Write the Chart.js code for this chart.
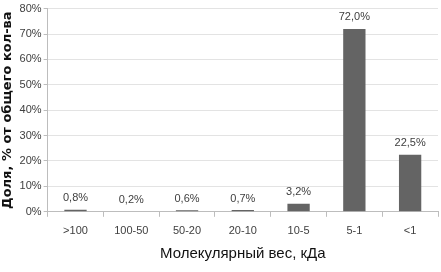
<!DOCTYPE html>
<html>
<head>
<meta charset="utf-8">
<script src="https://cdn.jsdelivr.net/npm/chart.js@4"></script>
<style>
  html, body { margin: 0; padding: 0; background: #fff; }
  #wrap { width: 441px; height: 272px; }
</style>
</head>
<body>
<div id="wrap"><canvas id="molChart"></canvas></div>
<script>
const categories = ['>100', '100-50', '50-20', '20-10', '10-5', '5-1', '<1'];
const shares = [0.8, 0.2, 0.6, 0.7, 3.2, 72.0, 22.5];
const yTicks = [0, 10, 20, 30, 40, 50, 60, 70, 80];

const narrow = "'Liberation Sans Narrow', 'Arial Narrow', sans-serif";

// подписи значений над столбцами
const valueLabels = {
    id: 'valueLabels',
    afterDatasetsDraw(chart) {
        const ctx = chart.ctx;
        const meta = chart.getDatasetMeta(0);
        ctx.save();
        ctx.font = '11px ' + narrow;
        ctx.fillStyle = '#404040';
        ctx.textAlign = 'center';
        ctx.textBaseline = 'bottom';
        meta.data.forEach((bar, i) => {
            const txt = shares[i].toFixed(1).replace('.', ',') + '%';
            ctx.fillText(txt, bar.x, bar.y - 6);
        });
        ctx.restore();
    }
};

const ctx = document.getElementById('molChart').getContext('2d');
new Chart(ctx, {
    type: 'bar',
    data: {
        labels: categories,
        datasets: [{
            data: shares,
            backgroundColor: '#646464',
            barPercentage: 0.4,
            categoryPercentage: 1.0
        }]
    },
    options: {
        responsive: true,
        maintainAspectRatio: false,
        animation: false,
        layout: { padding: { top: 4, right: 3, left: 0, bottom: 11 } },
        plugins: {
            legend: { display: false },
            tooltip: { enabled: false }
        },
        scales: {
            x: {
                grid: { display: true, offset: true, drawOnChartArea: false, color: '#bdbdbd', tickLength: 5 },
                border: { color: '#bdbdbd' },
                ticks: { color: '#404040', font: { family: narrow, size: 11 }, padding: 8, maxRotation: 0 },
                title: {
                    display: true,
                    text: 'Молекулярный вес, кДа',
                    color: '#111',
                    font: { family: narrow, size: 15, lineHeight: 1.0 },
                    padding: { top: 0, bottom: 0 }
                }
            },
            y: {
                min: 0,
                max: 80,
                afterBuildTicks(axis) { axis.ticks = yTicks.map(v => ({ value: v })); },
                grid: { color: '#e3e3e3', tickLength: 4, tickColor: '#bdbdbd' },
                border: { color: '#bdbdbd' },
                ticks: {
                    color: '#404040',
                    font: { family: narrow, size: 11 },
                    padding: 2,
                    callback: v => v + '%'
                },
                title: {
                    display: true,
                    text: 'Доля, % от общего кол-ва',
                    color: '#111',
                    font: { family: "'DejaVu Sans', sans-serif", size: 13, weight: 'bold' },
                    padding: { top: 0, bottom: 2 }
                }
            }
        }
    },
    plugins: [valueLabels]
});
</script>
</body>
</html>
